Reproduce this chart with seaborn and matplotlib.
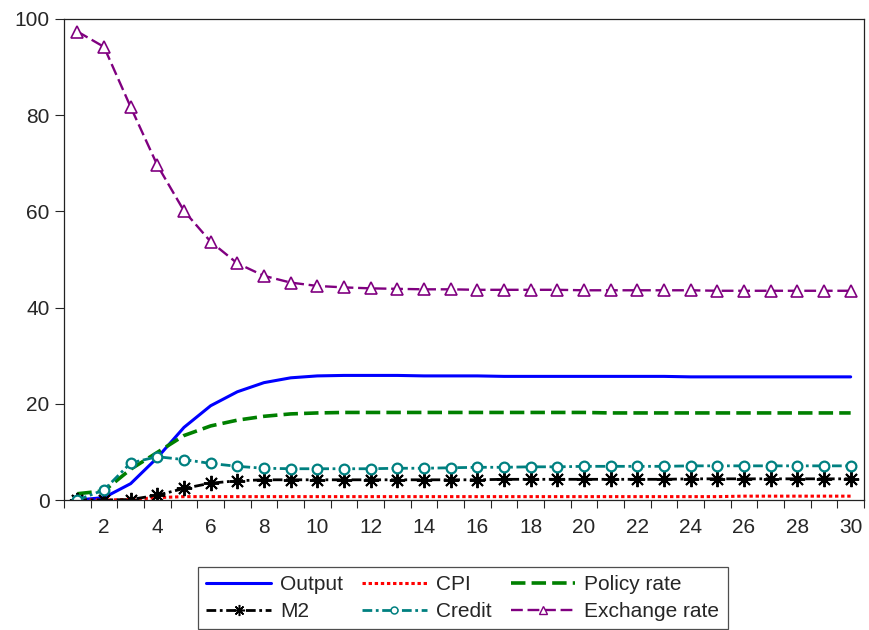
import numpy as np
import pandas as pd
import matplotlib
matplotlib.use("Agg")
import matplotlib.pyplot as plt
from matplotlib.lines import Line2D
import seaborn as sns

# Impulse responses over 30 periods
periods = list(range(1, 31))

output = [0.0, 0.5, 3.4, 8.8, 15.1, 19.6, 22.5, 24.4, 25.4, 25.8,
          25.9, 25.9, 25.9, 25.8, 25.8, 25.8, 25.7, 25.7, 25.7, 25.7,
          25.7, 25.7, 25.7, 25.6, 25.6, 25.6, 25.6, 25.6, 25.6, 25.6]
cpi = [0.0, 0.0, 0.1, 0.5, 0.7, 0.7, 0.7, 0.7, 0.7, 0.7,
       0.7, 0.7, 0.7, 0.7, 0.7, 0.7, 0.7, 0.7, 0.7, 0.7,
       0.7, 0.7, 0.7, 0.7, 0.7, 0.8, 0.8, 0.8, 0.8, 0.8]
policy_rate = [1.3, 1.9, 6.4, 9.9, 13.4, 15.4, 16.6, 17.4, 17.9, 18.1,
               18.2, 18.2, 18.2, 18.2, 18.2, 18.2, 18.2, 18.2, 18.2, 18.2,
               18.1, 18.1, 18.1, 18.1, 18.1, 18.1, 18.1, 18.1, 18.1, 18.1]
m2 = [0.0, 0.0, 0.1, 1.0, 2.4, 3.5, 4.0, 4.2, 4.2, 4.2,
      4.2, 4.2, 4.2, 4.2, 4.2, 4.2, 4.3, 4.3, 4.3, 4.3,
      4.3, 4.3, 4.3, 4.4, 4.4, 4.4, 4.4, 4.4, 4.4, 4.4]
credit = [0.0, 2.1, 7.7, 9.0, 8.4, 7.6, 7.0, 6.6, 6.5, 6.5,
          6.5, 6.5, 6.6, 6.6, 6.7, 6.8, 6.8, 6.9, 6.9, 7.0,
          7.0, 7.0, 7.0, 7.1, 7.1, 7.1, 7.1, 7.1, 7.1, 7.1]
exchange_rate = [97.4, 94.2, 81.7, 69.6, 60.1, 53.7, 49.2, 46.6, 45.2, 44.5,
                 44.2, 44.0, 43.9, 43.8, 43.8, 43.7, 43.7, 43.7, 43.7, 43.6,
                 43.6, 43.6, 43.6, 43.6, 43.5, 43.5, 43.5, 43.5, 43.5, 43.5]

x_tick_labels = list(range(2, 31, 2))
y_ticks = [0, 20, 40, 60, 80, 100]

sns.set_style("ticks")
plt.rcParams["font.family"] = ["Liberation Sans", "DejaVu Sans"]

fig = plt.figure(figsize=(8.7, 6.3), dpi=100)
ax = fig.add_axes([64 / 870, 1 - 500 / 630, 800 / 870, 481 / 630])

dash_dot = (0, (3.5, 1.3, 1, 1.3))
series = [
    ("Output", output, dict(color="#0000ff", linewidth=2.2, linestyle="-")),
    ("CPI", cpi, dict(color="#ff0000", linewidth=2.2, linestyle=(0, (1.1, 0.9)))),
    ("Policy rate", policy_rate, dict(color="#008000", linewidth=2.6, linestyle=(0, (4, 1.7)))),
    ("M2", m2, dict(color="#000000", linewidth=2.0, linestyle=dash_dot,
                    marker=(8, 2, 0), markersize=11, markeredgewidth=1.4,
                    markeredgecolor="#000000", markerfacecolor="#000000")),
    ("Credit", credit, dict(color="#008080", linewidth=2.0, linestyle=dash_dot,
                            marker="o", markersize=7, markeredgewidth=1.6,
                            markeredgecolor="#008080", markerfacecolor="white")),
    ("Exchange rate", exchange_rate, dict(color="#800080", linewidth=1.7, linestyle=(0, (5, 2)),
                                          marker="^", markersize=8, markeredgewidth=1.2,
                                          markeredgecolor="#800080", markerfacecolor="white")),
]

# Legend keys use the same styles with smaller markers
legend_marker = {"M2": dict(markersize=8, markeredgewidth=1.1),
                 "Credit": dict(markersize=5, markeredgewidth=1.1),
                 "Exchange rate": dict(markersize=6, markeredgewidth=1.0)}

handles = {}
for name, values, style in series:
    df = pd.DataFrame({"period": periods, "value": values})
    sns.lineplot(data=df, x="period", y="value", ax=ax, errorbar=None,
                 label=name, legend=False, **style)
    key_style = dict(style)
    key_style.update(legend_marker.get(name, {}))
    handles[name] = Line2D([], [], **key_style)

ax.set_xlim(0.5, 30.5)
ax.set_ylim(0, 100)
ax.set_xlabel("")
ax.set_ylabel("")

ax.set_xticks(x_tick_labels)
ax.set_xticklabels([str(v) for v in x_tick_labels])
ax.set_xticks(np.arange(0.5, 30.6, 1.0), minor=True)
ax.tick_params(axis="x", which="major", length=0, pad=13, labelsize=15)
ax.tick_params(axis="x", which="minor", length=6, width=0.8, direction="out")
ax.set_yticks(y_ticks)
ax.tick_params(axis="y", which="major", length=6.5, width=0.8, direction="out",
               pad=4, labelsize=15)

for side in ["top", "right", "bottom", "left"]:
    ax.spines[side].set_visible(True)
    ax.spines[side].set_color("#222222")
    ax.spines[side].set_linewidth(0.9)

order = ["Output", "M2", "CPI", "Credit", "Policy rate", "Exchange rate"]
leg = fig.legend([handles[n] for n in order], order, ncol=3,
                 loc="upper center", bbox_to_anchor=(463 / 870, 1 - 567 / 630),
                 borderaxespad=0, fontsize=15, frameon=True, fancybox=False,
                 edgecolor="#222222", handlelength=3.1, handletextpad=0.45,
                 columnspacing=0.9, labelspacing=0.36, borderpad=0.4,
                 numpoints=1)
leg.get_frame().set_linewidth(0.9)

fig.savefig("out.png", dpi=100, facecolor="white")
